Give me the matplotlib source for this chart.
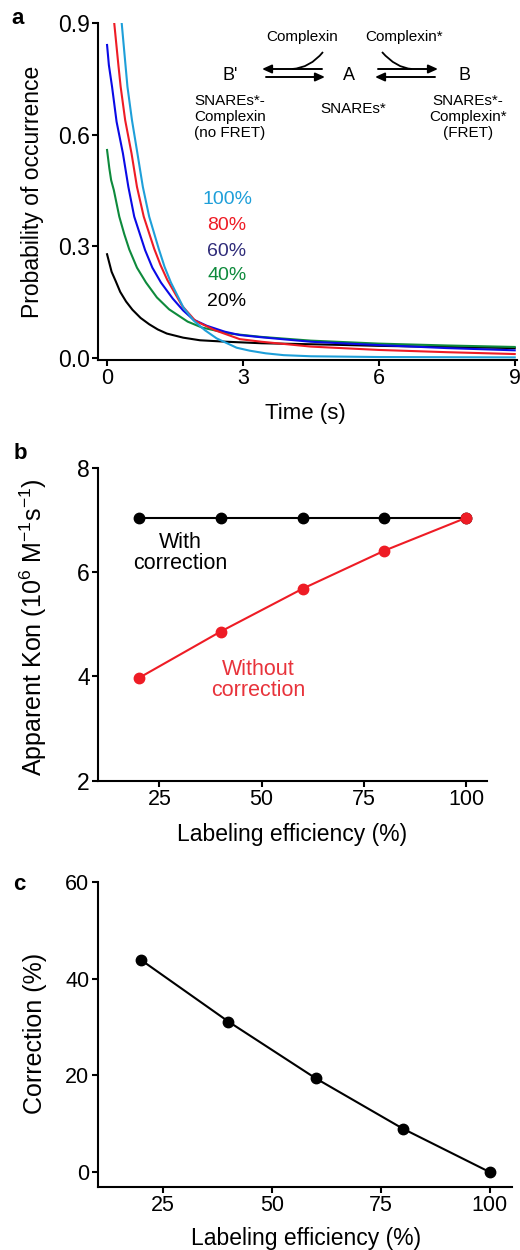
import matplotlib
matplotlib.use("Agg")
import matplotlib.pyplot as plt
from matplotlib.path import Path
from matplotlib.patches import PathPatch, FancyArrowPatch

plt.rcParams['font.family'] = ['Liberation Sans', 'DejaVu Sans']
plt.rcParams['mathtext.fontset'] = 'custom'
plt.rcParams['mathtext.rm'] = 'Liberation Sans'
plt.rcParams['mathtext.it'] = 'Liberation Sans:italic'

# panel a: probability of occurrence vs time
t20 = [0, 0.10, 0.19, 0.29, 0.42, 0.56, 0.74, 0.93, 1.12, 1.32, 1.68, 2.05, 2.64, 3.41, 5.0, 6.0, 7.5, 9.0]
p20 = [0.279, 0.232, 0.207, 0.178, 0.152, 0.130, 0.108, 0.091, 0.077, 0.066, 0.055, 0.048, 0.044, 0.040,
       0.036, 0.033, 0.030, 0.027]
t40 = [0, 0.05, 0.09, 0.15, 0.27, 0.38, 0.49, 0.66, 0.86, 1.1, 1.37, 1.78, 2.1, 2.7, 3.41, 4.5, 6.0, 7.5, 9.0]
p40 = [0.559, 0.51, 0.478, 0.451, 0.38, 0.333, 0.292, 0.243, 0.203, 0.163, 0.131, 0.098, 0.082, 0.066,
       0.057, 0.047, 0.039, 0.034, 0.030]
t60 = [0, 0.04, 0.11, 0.21, 0.35, 0.47, 0.60, 0.84, 1.0, 1.19, 1.45, 1.68, 1.9, 2.2, 2.6, 2.93, 3.41,
       4.5, 6.0, 7.5, 9.0]
p60 = [0.841, 0.787, 0.729, 0.635, 0.55, 0.46, 0.38, 0.29, 0.243, 0.203, 0.16, 0.128, 0.104, 0.087,
       0.071, 0.062, 0.056, 0.044, 0.035, 0.027, 0.021]
t80 = [0.155, 0.25, 0.30, 0.40, 0.54, 0.66, 0.81, 1.04, 1.18, 1.33, 1.66, 1.95, 2.38, 2.93, 3.41, 4.5,
       6.0, 7.5, 9.0]
p80 = [0.904, 0.787, 0.729, 0.639, 0.55, 0.46, 0.38, 0.294, 0.25, 0.21, 0.14, 0.1, 0.075, 0.051, 0.044,
       0.031, 0.022, 0.016, 0.011]
t100 = [0.32, 0.45, 0.55, 0.67, 0.79, 0.93, 1.14, 1.27, 1.41, 1.69, 1.92, 2.16, 2.42, 2.86, 3.15, 3.5,
        3.9, 4.5, 6.0, 9.0]
p100 = [0.904, 0.729, 0.639, 0.55, 0.46, 0.38, 0.294, 0.245, 0.203, 0.135, 0.10, 0.075, 0.053, 0.028,
        0.020, 0.013, 0.008, 0.005, 0.003, 0.002]

pct_labels = ['100%', '80%', '60%', '40%', '20%']

# panels b and c
efficiency = [20, 40, 60, 80, 100]
kon_with = [7.04, 7.04, 7.04, 7.04, 7.04]
kon_without = [3.97, 4.86, 5.68, 6.41, 7.04]
correction = [43.8, 31.1, 19.4, 9.0, 0.0]

c_cyan = '#1E9FD9'
c_red = '#EE1C25'
c_blue = '#0A0AE6'
c_green = '#0E8A3C'
c_navy = '#302C7A'

W, H = 520, 1250
fig = plt.figure(figsize=(W / 100, H / 100), dpi=100)


def fx(x):
    return x / W


def fy(y):
    return 1 - y / H


def style(ax):
    for s in ['top', 'right']:
        ax.spines[s].set_visible(False)
    for s in ['left', 'bottom']:
        ax.spines[s].set_linewidth(1.5)
    ax.tick_params(direction='out', length=4, width=1.5, labelsize=15.5, pad=2)


# ---- panel a
ax = fig.add_axes([fx(98), fy(360), 419 / W, 337 / H])
ax.plot(t20, p20, color='black', lw=1.5)
ax.plot(t40, p40, color=c_green, lw=1.5)
ax.plot(t60, p60, color=c_blue, lw=1.5)
ax.plot(t80, p80, color=c_red, lw=1.5)
ax.plot(t100, p100, color=c_cyan, lw=1.5)
ax.set_xlim(-0.2, 9.05)
ax.set_ylim(-0.005, 0.9)
ax.set_xticks([0, 3, 6, 9])
ax.set_yticks([0, 0.3, 0.6, 0.9])
ax.set_yticklabels(['0.0', '0.3', '0.6', '0.9'])
style(ax)
ax.tick_params(axis='y', labelsize=16.5)

for lab, col, y in zip(pct_labels, [c_cyan, c_red, c_navy, c_green, 'black'], [200, 226, 251, 276, 302]):
    fig.text(fx(227), fy(y), lab, color=col, fontsize=14, ha='center', va='center')

# reaction scheme
fig.text(fx(302), fy(37), 'Complexin', fontsize=11, ha='center', va='center')
fig.text(fx(404), fy(37), 'Complexin*', fontsize=11, ha='center', va='center')
for lab, x in [("B'", 230), ('A', 349), ('B', 464)]:
    fig.text(fx(x), fy(76), lab, fontsize=13, ha='center', va='center')
fig.text(fx(230), fy(117), 'SNAREs*-\nComplexin\n(no FRET)', fontsize=11,
         ha='center', va='center', linespacing=1.15)
fig.text(fx(353), fy(109), 'SNAREs*', fontsize=11, ha='center', va='center')
fig.text(fx(468), fy(117), 'SNAREs*-\nComplexin*\n(FRET)', fontsize=11,
         ha='center', va='center', linespacing=1.15)


def arrow(x0, y0, x1, y1):
    fig.add_artist(FancyArrowPatch((fx(x0), fy(y0)), (fx(x1), fy(y1)),
                                   transform=fig.transFigure,
                                   arrowstyle='-|>,head_length=0.4,head_width=0.18',
                                   mutation_scale=14, lw=1.4, color='black',
                                   shrinkA=0, shrinkB=0))


arrow(322, 69, 262, 69)
arrow(266, 77, 325, 77)
arrow(378, 69, 438, 69)
arrow(435, 77, 375, 77)


def bend(p0, c, p2):
    path = Path([(fx(p0[0]), fy(p0[1])), (fx(c[0]), fy(c[1])), (fx(p2[0]), fy(p2[1]))],
                [Path.MOVETO, Path.CURVE3, Path.CURVE3])
    fig.add_artist(PathPatch(path, transform=fig.transFigure, fill=False, lw=1.3))


bend((323, 52), (310, 68), (292, 69))
bend((382, 52), (396, 68), (412, 69))

fig.text(fx(305), fy(413), 'Time (s)', fontsize=16, ha='center', va='center')
fig.text(fx(33), fy(192), 'Probability of occurrence', fontsize=16.5, rotation=90,
         ha='center', va='center')
fig.text(fx(18), fy(19), 'a', fontsize=16, fontweight='bold', ha='center', va='center')

# ---- panel b
ax = fig.add_axes([fx(98), fy(780.7), 388.7 / W, 313 / H])
ax.plot(efficiency, kon_with, color='black', lw=1.5, marker='o', ms=7.5)
ax.plot(efficiency, kon_without, color=c_red, lw=1.5, marker='o', ms=7.5)
ax.set_xlim(10, 105)
ax.set_ylim(2, 8)
ax.set_xticks([25, 50, 75, 100])
ax.set_yticks([2, 4, 6, 8])
style(ax)
ax.tick_params(axis='y', labelsize=16.5)

fig.text(fx(180), fy(553), 'With\ncorrection', fontsize=15.5, ha='center', va='center',
         linespacing=0.95)
fig.text(fx(258), fy(680), 'Without\ncorrection', fontsize=15.5, ha='center', va='center',
         linespacing=0.95, color='#E8333B')
fig.text(fx(292), fy(835), 'Labeling efficiency (%)', fontsize=16.5, ha='center', va='center')
fig.text(fx(33), fy(627), r'Apparent Kon (10$^6$ M$^{-1}$s$^{-1}$)', fontsize=18,
         rotation=90, ha='center', va='center')
fig.text(fx(20), fy(453), 'b', fontsize=16, fontweight='bold', ha='center', va='center')

# ---- panel c
ax = fig.add_axes([fx(97.7), fy(1186.7), 414 / W, 305 / H])
ax.plot(efficiency, correction, color='black', lw=1.5, marker='o', ms=7.5)
ax.set_xlim(10, 105)
ax.set_ylim(-3, 60)
ax.set_xticks([25, 50, 75, 100])
ax.set_yticks([0, 20, 40, 60])
style(ax)

fig.text(fx(306), fy(1238), 'Labeling efficiency (%)', fontsize=16.5, ha='center', va='center')
fig.text(fx(35), fy(1033), 'Correction (%)', fontsize=18, rotation=90,
         ha='center', va='center')
fig.text(fx(19), fy(885), 'c', fontsize=16, fontweight='bold', ha='center', va='center')

fig.savefig('out.png', dpi=100)
